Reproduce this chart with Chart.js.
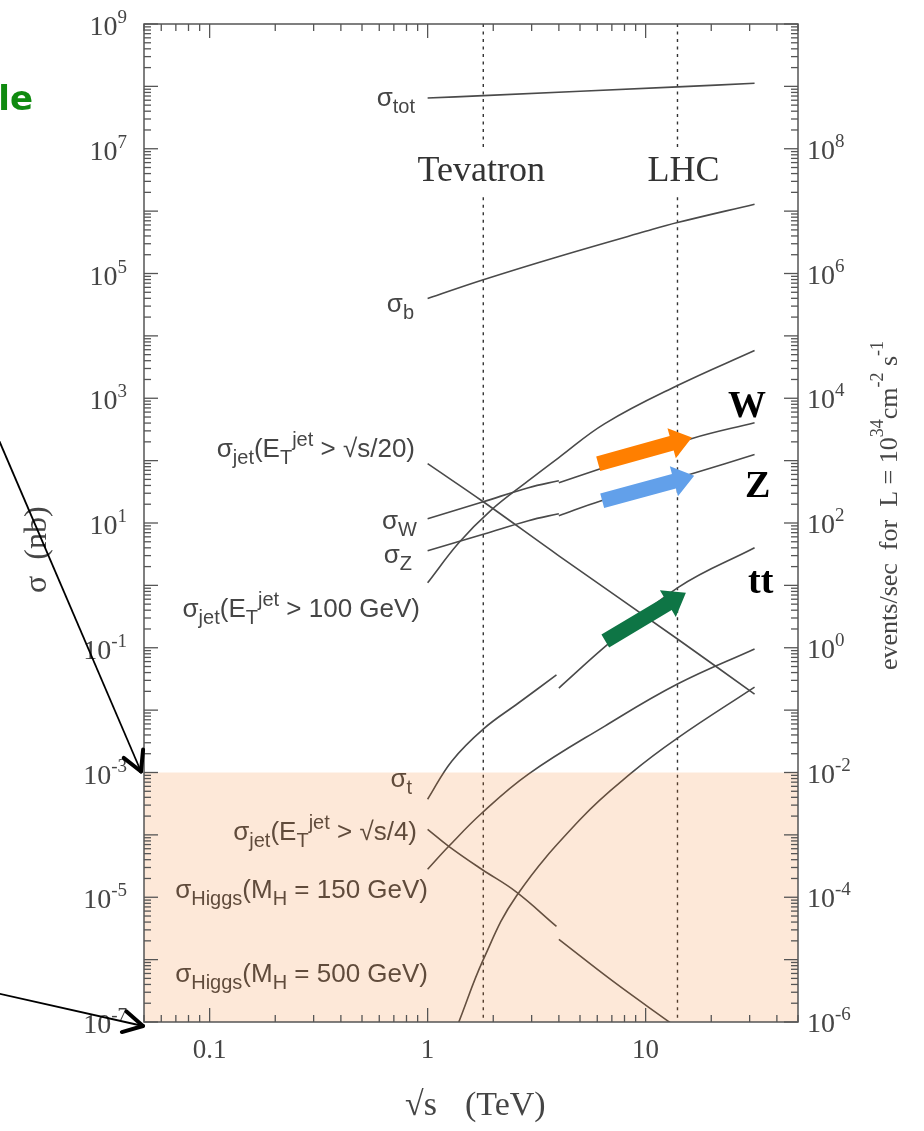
<!DOCTYPE html>
<html>
<head>
<meta charset="utf-8">
<script src="https://cdn.jsdelivr.net/npm/chart.js@4.4.1/dist/chart.umd.min.js"></script>
<style>
  html, body { margin: 0; padding: 0; background: #fff; }
</style>
</head>
<body>
<canvas id="chart" width="924" height="1131"></canvas>
<script>
// cross sections (nb) against sqrt(s) (TeV)
const sTot = [1, 1.8, 14, 31.6];
const sigmaTot = [6.5e7, 7.1e7, 9.8e7, 1.12e8];

const sB = [1, 1.8, 4, 10, 14, 31.6];
const sigmaB = [3.98e4, 7.96e4, 1.88e5, 4.74e5, 6.55e5, 1.29e6];

const sJet20 = [1, 1.8, 4, 14, 31.6];
const sigmaJet20 = [89.4, 21.9, 2.98, 0.138, 0.0181];

const sJet100 = [1, 1.39, 1.94, 2.9, 4, 6.5, 14, 31.6];
const sigmaJet100 = [1.10, 4.82, 15.7, 47.7, 112, 392, 1600, 5830];

// W, Z, top, jets: ppbar below 4 TeV, pp above
const sW1 = [1, 1.8, 2.9, 4.0];
const sigmaW1 = [11.7, 21.9, 36.8, 47.7];
const sW2 = [4.0, 6.2, 16.2, 31.6];
const sigmaW2 = [44.3, 74.3, 225, 406];

const sZ1 = [1, 1.8, 2.9, 4.0];
const sigmaZ1 = [3.58, 6.6, 10.9, 14.1];
const sZ2 = [4.0, 6.26, 16.9, 31.6];
const sigmaZ2 = [13.1, 22.8, 64.1, 125];

const sTop1 = [1, 1.29, 1.8, 2.61, 3.9];
const sigmaTop1 = [3.73e-4, 1.52e-3, 4.97e-3, 0.0130, 0.0366];
const sTop2 = [4.0, 6.74, 14, 31.6];
const sigmaTop2 = [0.0226, 0.115, 0.912, 4.0];

const sJet4a = [1, 1.25, 1.77, 2.53, 3.9];
const sigmaJet4a = [1.23e-4, 6.56e-5, 2.81e-5, 1.24e-5, 3.41e-6];
const sJet4b = [4.0, 7.1, 13.1];
const sigmaJet4b = [2.11e-6, 4.47e-7, 9.5e-8];

const sH150 = [1, 1.25, 1.77, 2.9, 6.5, 14, 31.6];
const sigmaH150 = [2.81e-5, 6.56e-5, 2.22e-4, 9.42e-4, 5.55e-3, 0.0262, 0.0957];

const sH500 = [1.39, 1.8, 2.55, 5.07, 8.58, 14, 31.6];
const sigmaH500 = [1e-7, 1.0e-6, 1.04e-5, 1.85e-4, 9.77e-4, 3.56e-3, 0.0234];

// colliders (dotted lines)
const colliderNames = ['Tevatron', 'LHC'];
const colliderE = [1.8, 14];

// shaded band below this cross section
const shadeTop = 1e-3;

// tick labels
const xTickVals = [0.1, 1, 10];
const xTickText = ['0.1', '1', '10'];
const yTickExp = [9, 7, 5, 3, 1, -1, -3, -5, -7];
const y2TickExp = [8, 6, 4, 2, 0, -2, -4, -6];

const LINE = '#4a4a4a';
const TXT = '#454545';

function curve(label, xs, ys) {
  return {
    label,
    data: xs.map((x, i) => ({ x, y: ys[i] })),
    showLine: true,
    borderColor: LINE,
    borderWidth: 1.6,
    pointRadius: 0,
    tension: 0.4,
    fill: false,
    order: 1
  };
}

function vline(e) {
  return {
    label: 'collider',
    data: [{ x: e, y: 1e9 }, { x: e, y: 1.06e7 }, { x: e, y: null }, { x: e, y: 1.67e6 }, { x: e, y: 1e-7 }],
    showLine: true,
    spanGaps: false,
    borderColor: '#333',
    borderWidth: 1.4,
    borderDash: [3, 4.5],
    pointRadius: 0,
    tension: 0,
    fill: false,
    order: 2
  };
}

const datasets = [
  {
    label: 'shade',
    data: [{ x: 0.05, y: shadeTop }, { x: 50, y: shadeTop }],
    showLine: true,
    fill: 'start',
    backgroundColor: 'rgba(245,110,10,0.16)',
    borderWidth: 0,
    pointRadius: 0,
    order: -1
  },
  curve('tot', sTot, sigmaTot),
  curve('b', sB, sigmaB),
  curve('jet20', sJet20, sigmaJet20),
  curve('jet100', sJet100, sigmaJet100),
  curve('W ppbar', sW1, sigmaW1),
  curve('W pp', sW2, sigmaW2),
  curve('Z ppbar', sZ1, sigmaZ1),
  curve('Z pp', sZ2, sigmaZ2),
  curve('t ppbar', sTop1, sigmaTop1),
  curve('t pp', sTop2, sigmaTop2),
  curve('jet4 ppbar', sJet4a, sigmaJet4a),
  curve('jet4 pp', sJet4b, sigmaJet4b),
  curve('H150', sH150, sigmaH150),
  curve('H500', sH500, sigmaH500),
  ...colliderE.map(vline)
];

// label texts: [text, 0 normal / 1 sub / 2 sup]
const curveLabels = [
  { parts: [['σ', 0], ['tot', 1]], x: 415, y: 106 },
  { parts: [['σ', 0], ['b', 1]], x: 414, y: 312 },
  { parts: [['σ', 0], ['jet', 1], ['(E', 0], ['T', 1], ['jet', 2], [' > √s/20)', 0]], x: 415, y: 457 },
  { parts: [['σ', 0], ['W', 1]], x: 417, y: 529 },
  { parts: [['σ', 0], ['Z', 1]], x: 412, y: 563 },
  { parts: [['σ', 0], ['jet', 1], ['(E', 0], ['T', 1], ['jet', 2], [' > 100 GeV)', 0]], x: 420, y: 617 },
  { parts: [['σ', 0], ['t', 1]], x: 412, y: 787 },
  { parts: [['σ', 0], ['jet', 1], ['(E', 0], ['T', 1], ['jet', 2], [' > √s/4)', 0]], x: 417, y: 840 },
  { parts: [['σ', 0], ['Higgs', 1], ['(M', 0], ['H', 1], [' = 150 GeV)', 0]], x: 428, y: 898 },
  { parts: [['σ', 0], ['Higgs', 1], ['(M', 0], ['H', 1], [' = 500 GeV)', 0]], x: 428, y: 982 }
];

function richText(ctx, parts, x, y, o) {
  const font = (k) => (k ? o.small : o.size) + 'px ' + o.family;
  let w = 0;
  for (const [t, k] of parts) { ctx.font = font(k); w += ctx.measureText(t).width; }
  let cx = o.align === 'right' ? x - w : x;
  ctx.textAlign = 'left';
  ctx.textBaseline = 'alphabetic';
  for (const [t, k] of parts) {
    ctx.font = font(k);
    const dy = k === 1 ? o.subDy : k === 2 ? o.supDy : 0;
    ctx.fillText(t, cx, y + dy);
    cx += ctx.measureText(t).width;
  }
}

function seg(ctx, x0, y0, x1, y1) {
  ctx.beginPath(); ctx.moveTo(x0, y0); ctx.lineTo(x1, y1); ctx.stroke();
}

function fatArrow(ctx, x0, y0, x1, y1, color) {
  const a = Math.atan2(y1 - y0, x1 - x0), L = Math.hypot(x1 - x0, y1 - y0);
  const sh = 15, hw = 31, hl = 21;
  ctx.save();
  ctx.translate(x0, y0); ctx.rotate(a);
  ctx.beginPath();
  ctx.moveTo(0, -sh / 2); ctx.lineTo(L - hl, -sh / 2); ctx.lineTo(L - hl, -hw / 2);
  ctx.lineTo(L, 0); ctx.lineTo(L - hl, hw / 2); ctx.lineTo(L - hl, sh / 2); ctx.lineTo(0, sh / 2);
  ctx.closePath();
  ctx.fillStyle = color; ctx.fill();
  ctx.restore();
}

function thinArrow(ctx, x0, y0, x1, y1) {
  const a = Math.atan2(y1 - y0, x1 - x0);
  ctx.save();
  ctx.strokeStyle = '#000'; ctx.lineWidth = 1.8;
  seg(ctx, x0, y0, x1, y1);
  ctx.lineWidth = 4; ctx.lineCap = 'round';
  for (const s of [-1, 1]) {
    const b = a + Math.PI + s * 0.5;
    seg(ctx, x1, y1, x1 + 22 * Math.cos(b), y1 + 22 * Math.sin(b));
  }
  ctx.restore();
}

const decor = {
  id: 'decor',
  beforeDatasetsDraw(chart) {
    const ctx = chart.ctx, xs = chart.scales.x;
    ctx.save();
    ctx.fillStyle = TXT;
    for (const l of curveLabels) {
      richText(ctx, l.parts, l.x, l.y, { size: 26, small: 20, family: '"Liberation Sans", Arial, sans-serif', align: 'right', subDy: 7, supDy: -11 });
    }
    ctx.fillStyle = '#333';
    ctx.font = '36px "Liberation Serif", serif';
    ctx.textAlign = 'center';
    ctx.textBaseline = 'alphabetic';
    const off = [-2, 6];
    colliderE.forEach((e, i) => ctx.fillText(colliderNames[i], xs.getPixelForValue(e) + off[i], 181));
    ctx.restore();
  },
  afterDatasetsDraw(chart) {
    const ctx = chart.ctx, xs = chart.scales.x, ys = chart.scales.y, y2 = chart.scales.y2;
    const { left, right, top, bottom } = chart.chartArea;
    ctx.save();
    // frame and inward ticks
    ctx.strokeStyle = '#555';
    ctx.lineWidth = 1.5;
    ctx.strokeRect(left, top, right - left, bottom - top);
    ctx.lineWidth = 1.3;
    for (let e = -7; e <= 9; e++) {
      for (let m = 1; m <= 9; m++) {
        const v = m * Math.pow(10, e);
        if (v > 1.0001e9) break;
        const py = ys.getPixelForValue(v), len = m === 1 ? 14 : 7;
        seg(ctx, left, py, left + len, py);
      }
    }
    for (let e = -6; e <= 10; e++) {
      for (let m = 1; m <= 9; m++) {
        const v = m * Math.pow(10, e);
        if (v > 1.0001e10) break;
        const py = y2.getPixelForValue(v), len = m === 1 ? 14 : 7;
        seg(ctx, right, py, right - len, py);
      }
    }
    for (let e = -2; e <= 1; e++) {
      for (let m = 1; m <= 9; m++) {
        const v = m * Math.pow(10, e);
        if (v < 0.0499 || v > 50.01) continue;
        const px = xs.getPixelForValue(v), len = m === 1 ? 14 : 7;
        seg(ctx, px, bottom, px, bottom - len);
        seg(ctx, px, top, px, top + len);
      }
    }
    // tick labels
    ctx.fillStyle = TXT;
    const tickFont = { size: 28, small: 19, family: '"Liberation Serif", serif', subDy: 0, supDy: -12 };
    for (const e of yTickExp) {
      const py = ys.getPixelForValue(Math.pow(10, e));
      richText(ctx, [['10', 0], [String(e), 2]], left - 17, py + 11, { ...tickFont, align: 'right' });
    }
    for (const e of y2TickExp) {
      const py = y2.getPixelForValue(Math.pow(10, e));
      richText(ctx, [['10', 0], [String(e), 2]], right + 9, py + 10, { ...tickFont, align: 'left' });
    }
    ctx.font = '27px "Liberation Serif", serif';
    ctx.textAlign = 'center';
    xTickVals.forEach((v, i) => ctx.fillText(xTickText[i], xs.getPixelForValue(v), bottom + 36));
    // axis titles
    ctx.font = '34px "Liberation Serif", serif';
    ctx.textAlign = 'left';
    ctx.fillText('√s', 405, 1115);
    ctx.fillText('(TeV)', 465, 1115);
    ctx.save();
    ctx.translate(46, 593);
    ctx.rotate(-Math.PI / 2);
    ctx.font = '32px "Liberation Serif", serif';
    ctx.fillText('σ  (nb)', 0, 0);
    ctx.restore();
    ctx.save();
    ctx.translate(897, 670);
    ctx.rotate(-Math.PI / 2);
    richText(ctx, [['events/sec  for  L = 10', 0], ['34', 2], ['cm', 0], ['-2', 2], [' s', 0], ['-1', 2]], 0, 0,
      { size: 26, small: 18, family: '"Liberation Serif", serif', align: 'left', subDy: 0, supDy: -14 });
    ctx.restore();
    // coloured arrows onto W, Z and ttbar at the LHC
    const P = (x, y) => [xs.getPixelForValue(x), ys.getPixelForValue(y)];
    fatArrow(ctx, ...P(6.06, 89.3), ...P(16.3, 234), '#ff7f00');
    fatArrow(ctx, ...P(6.32, 22.8), ...P(16.7, 57.3), '#62a0ea');
    fatArrow(ctx, ...P(6.53, 0.1285), ...P(15.3, 0.759), '#0e7545');
    ctx.fillStyle = '#000';
    ctx.font = 'bold 38px "Liberation Serif", serif';
    ctx.textAlign = 'left';
    ctx.fillText('W', 728, 417);
    ctx.fillText('Z', 745, 497);
    ctx.fillText('tt', 748, 593);
    // black pointer arrows from the left
    thinArrow(ctx, -8, 424, left - 3, ys.getPixelForValue(1e-3) - 1);
    thinArrow(ctx, -4, 993, left - 1, ys.getPixelForValue(1e-7) + 4);
    ctx.fillStyle = '#0f8a0f';
    ctx.font = 'bold 34px "DejaVu Sans", sans-serif';
    ctx.textAlign = 'right';
    ctx.fillText('le', 33, 110);
    ctx.restore();
  }
};

const fixed = (w) => (s) => { s.width = w; };
new Chart(document.getElementById('chart'), {
  type: 'scatter',
  data: { datasets },
  options: {
    responsive: false,
    animation: false,
    devicePixelRatio: 1,
    layout: { padding: { top: 24, left: 0, right: 0, bottom: 0 } },
    plugins: { legend: { display: false }, tooltip: { enabled: false } },
    scales: {
      x: {
        type: 'logarithmic', min: 0.05, max: 50,
        grid: { display: false }, border: { display: false }, ticks: { display: false },
        afterFit: (s) => { s.height = 109; }
      },
      y: {
        type: 'logarithmic', position: 'left', min: 1e-7, max: 1e9,
        grid: { display: false }, border: { display: false }, ticks: { display: false },
        afterFit: fixed(144)
      },
      y2: {
        type: 'logarithmic', position: 'right', min: 1e-6, max: 1e10,
        grid: { display: false }, border: { display: false }, ticks: { display: false },
        afterFit: fixed(126)
      }
    }
  },
  plugins: [decor]
});
</script>
</body>
</html>
